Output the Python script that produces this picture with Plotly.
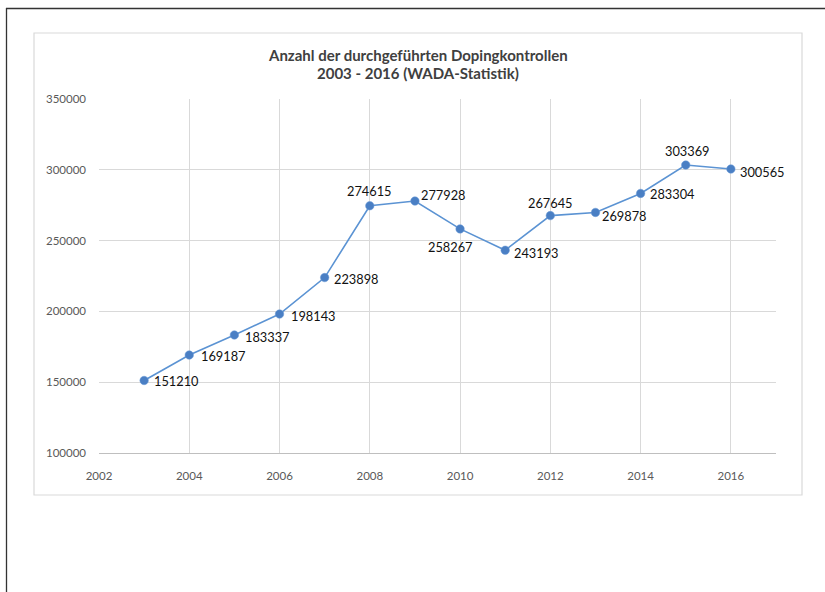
import plotly.graph_objects as go

years = [2003, 2004, 2005, 2006, 2007, 2008, 2009, 2010, 2011, 2012, 2013, 2014, 2015, 2016]
tests = [151210, 169187, 183337, 198143, 223898, 274615, 277928, 258267, 243193, 267645, 269878, 283304, 303369, 300565]
title_lines = ["Anzahl der durchgeführten Dopingkontrollen", "2003 - 2016 (WADA-Statistik)"]
x_ticks = [2002, 2004, 2006, 2008, 2010, 2012, 2014, 2016]
y_ticks = [100000, 150000, 200000, 250000, 300000, 350000]

# label placement style: (anchor, dx, dy) in pixels, dy positive = up
label_style = [("left", 8, -1), ("left", 10, -1), ("left", 9, -2), ("left", 9, -2), ("left", 7, -1),
               ("center", 0, 15), ("left", 4, 6), ("center", -10, -18), ("left", 7, -3), ("center", 0, 13),
               ("left", 5, -4), ("left", 7, -1), ("center", 2, 14), ("left", 7, -3)]

W, H = 825, 592
L, R, T, B = 99, 776, 99, 453
FONT = "Lato, Carlito, sans-serif"

def px(X):
    return (X - L) / (R - L)

def py(Y):
    return (B - Y) / (B - T)

fig = go.Figure()
fig.add_trace(go.Scatter(
    x=years, y=tests, mode="lines+markers",
    line=dict(color="#5b93d3", width=1.6),
    marker=dict(size=8.5, color="#4a7fc4", line=dict(color="#6a9ad6", width=0.5)),
    cliponaxis=False, showlegend=False, hoverinfo="x+y",
))

annotations = []
for x, y, (anc, dx, dy) in zip(years, tests, label_style):
    annotations.append(dict(
        x=x, y=y, xref="x", yref="y", text=str(y), showarrow=False,
        xanchor=anc, yanchor="middle", xshift=dx, yshift=dy,
        font=dict(family=FONT, size=12.8, color="#111111"),
    ))
for i, line in enumerate(title_lines):
    annotations.append(dict(
        x=px(418), y=py(55 + 18 * i), xref="paper", yref="paper", text="<b>%s</b>" % line,
        showarrow=False, xanchor="center", yanchor="middle",
        font=dict(family=FONT, size=15, color="#404040"),
    ))

shapes = [
    dict(type="rect", xref="paper", yref="paper", x0=px(34), x1=px(802), y0=py(495), y1=py(33),
         line=dict(color="#d9d9d9", width=1.2), layer="below"),
    dict(type="line", xref="paper", yref="paper", x0=px(6.5), x1=px(6.5), y0=py(8), y1=py(H),
         line=dict(color="#333333", width=1.3)),
    dict(type="line", xref="paper", yref="paper", x0=px(6), x1=px(W), y0=py(8.5), y1=py(8.5),
         line=dict(color="#333333", width=1.3)),
]

fig.update_layout(
    width=W, height=H,
    margin=dict(l=L, r=W - R, t=T, b=H - B),
    paper_bgcolor="white", plot_bgcolor="white",
    font=dict(family=FONT, color="#595959", size=11.5),
    shapes=shapes, annotations=annotations,
)
fig.update_xaxes(range=[2002, 2017], tickvals=x_ticks, ticktext=[str(t) for t in x_ticks],
                 showgrid=True, gridcolor="#d9d9d9", gridwidth=1,
                 showline=True, linecolor="#bfbfbf", linewidth=1,
                 zeroline=False, ticks="", ticklabelstandoff=12,
                 tickfont=dict(size=11.5, color="#595959"))
fig.update_yaxes(range=[100000, 350000], tickvals=y_ticks, ticktext=[str(t) for t in y_ticks],
                 showgrid=True, gridcolor="#d9d9d9", gridwidth=1,
                 showline=False, zeroline=False, ticks="", ticklabelstandoff=12,
                 tickfont=dict(size=11.5, color="#595959"))

fig.write_html("out.html", config={"displayModeBar": False},
               post_script="document.body.style.margin='0';document.body.style.overflow='hidden';")
